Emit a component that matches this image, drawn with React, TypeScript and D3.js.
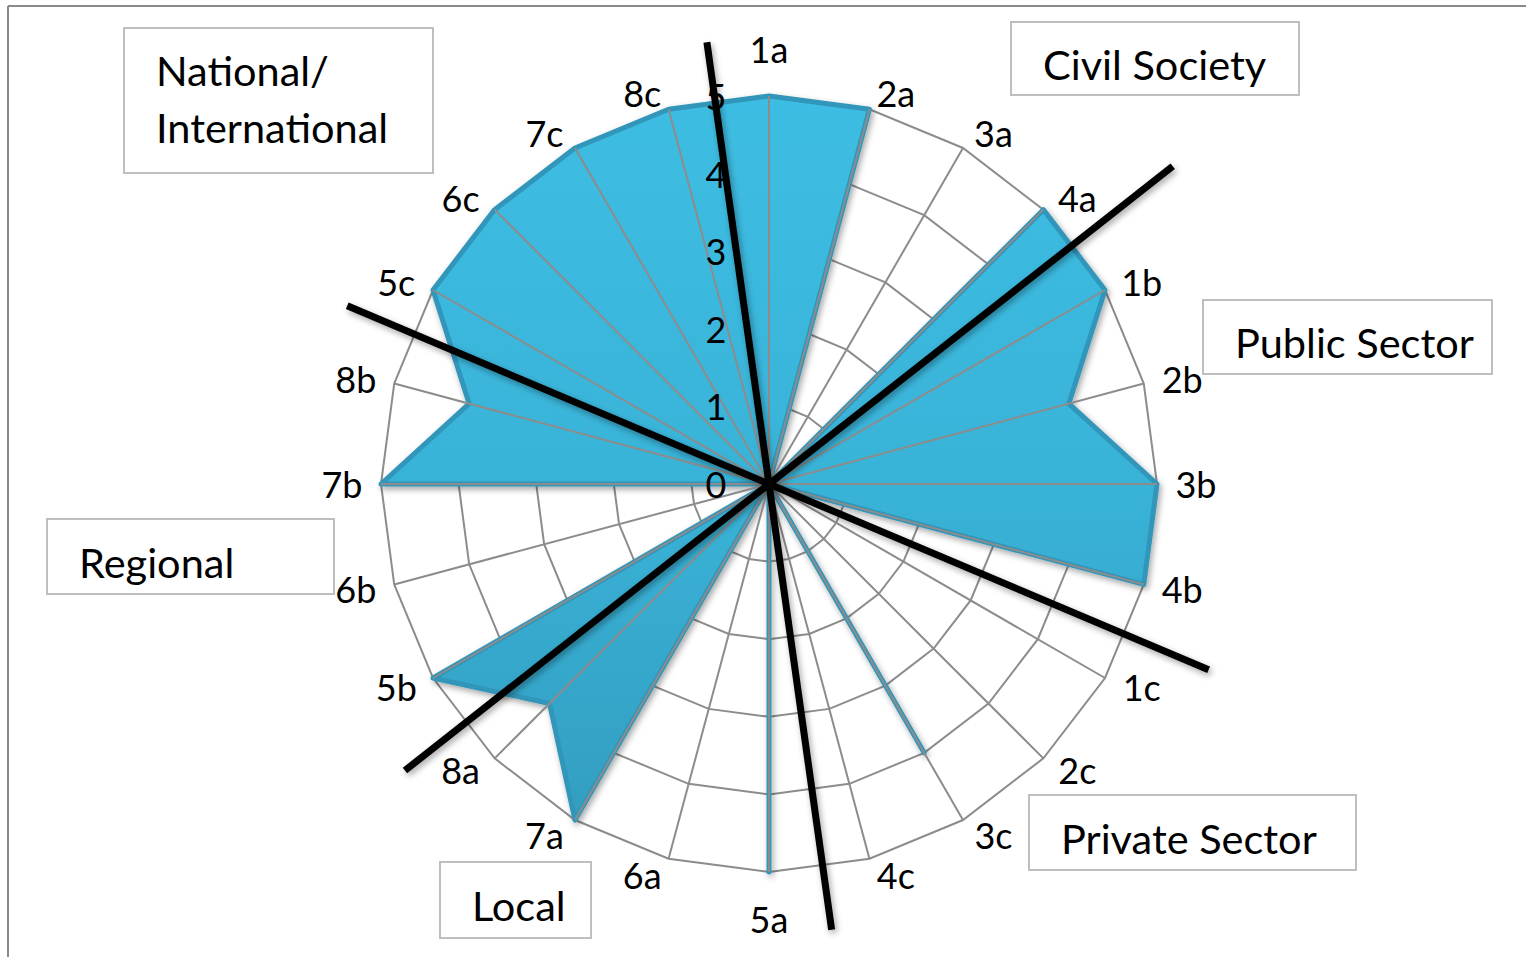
import React from 'react';
import * as d3 from 'd3';

const categories = ['1a','2a','3a','4a','1b','2b','3b','4b','1c','2c','3c','4c','5a','6a','7a','8a','5b','6b','7b','8b','5c','6c','7c','8c'];
const values = [5,5,0,5,5,4,5,5,0,0,4,0,5,0,5,4,5,0,5,4,5,5,5,5];
const tickValues = [0,1,2,3,4,5];

// separator lines: angle (deg, clockwise from top) and extent in value units on each side
const separatorAngles = [352, 51.8, 292.9];
const separatorReachA = [5.75, 6.62, 5.9];
const separatorReachB = [5.8, 5.97, 6.15];

const groupNames = [['National/', 'International'], ['Civil Society'], ['Public Sector'], ['Regional'], ['Private Sector'], ['Local']];
const groupBoxes = [
  { x: 124, y: 28, w: 309, h: 145 },
  { x: 1011, y: 22, w: 288, h: 73 },
  { x: 1203, y: 300, w: 289, h: 74 },
  { x: 47, y: 519, w: 287, h: 75 },
  { x: 1029, y: 795, w: 327, h: 75 },
  { x: 440, y: 862, w: 151, h: 76 },
];

const W = 1526, H = 957;
const cx = 769, cy = 484;
const R = 388;

export default function App() {
  const r = d3.scaleLinear().domain([0, 5]).range([0, R]);
  const n = categories.length;
  const ang = d3.scaleLinear().domain([0, n]).range([0, 2 * Math.PI]);

  const radial = d3.lineRadial<number>()
    .angle((_, i) => ang(i))
    .radius(d => r(d))
    .curve(d3.curveLinearClosed);

  const ring = (v: number) => radial(categories.map(() => v)) as string;
  const area = radial(values) as string;

  const pt = (i: number, v: number) => {
    const a = ang(i);
    return [Math.sin(a) * r(v), -Math.cos(a) * r(v)];
  };

  const font = 'Lato, "Open Sans", sans-serif';

  return (
    <svg width={W} height={H} style={{ position: 'absolute', left: 0, top: 0, background: '#fff' }}>
      <defs>
        <linearGradient id="fillGrad" x1="0" y1={-R} x2="0" y2={R} gradientUnits="userSpaceOnUse">
          <stop offset="0" stopColor="#3dbde3" />
          <stop offset="0.5" stopColor="#39b3d8" />
          <stop offset="1" stopColor="#329bbd" />
        </linearGradient>
        <filter id="shadow" x="-20%" y="-20%" width="140%" height="140%">
          <feDropShadow dx="2" dy="3" stdDeviation="3" floodColor="#000" floodOpacity="0.35" />
        </filter>
      </defs>
      {/* frame */}
      <line x1={8} y1={6} x2={W} y2={6} stroke="#8a8a8a" strokeWidth={2} />
      <line x1={8} y1={6} x2={8} y2={H} stroke="#8a8a8a" strokeWidth={2} />

      <g transform={`translate(${cx},${cy})`}>
        {tickValues.slice(1).map(v => (
          <path key={v} d={ring(v)} fill="none" stroke="#8c8c8c" strokeWidth={2} />
        ))}
        <path d={area} fill="url(#fillGrad)" stroke="#3196ba" strokeWidth={5} strokeLinejoin="round" filter="url(#shadow)" />
        {categories.map((c, i) => {
          const [x, y] = pt(i, 5);
          return <line key={c} x1={0} y1={0} x2={x} y2={y} stroke="#8c8c8c" strokeWidth={2} />;
        })}
        {tickValues.map(v => (
          <text key={v} x={-53} y={-r(v)} textAnchor="middle" dominantBaseline="central"
            fontFamily={font} fontSize={36} fill="#000">{v}</text>
        ))}
        {categories.map((c, i) => {
          const a = ang(i);
          const s = Math.sin(a), co = Math.cos(a);
          const [x, y] = pt(i, 5);
          let dx: number, dy: number;
          if (Math.abs(s) < 0.01) { dx = 0; dy = -co * 47; }
          else { dx = Math.sign(s) * (22 + 17 * Math.abs(s)); dy = -co * 17; }
          return (
            <text key={c} x={x + dx} y={y + dy} textAnchor="middle" dominantBaseline="central"
              fontFamily={font} fontSize={36} fill="#000">{c}</text>
          );
        })}
        {separatorAngles.map((a, i) => {
          const t = (a * Math.PI) / 180;
          const ra = r(separatorReachA[i]), rb = r(separatorReachB[i]);
          return (
            <line key={i} x1={Math.sin(t) * ra} y1={-Math.cos(t) * ra}
              x2={-Math.sin(t) * rb} y2={Math.cos(t) * rb}
              stroke="#000" strokeWidth={7} filter="url(#shadow)" />
          );
        })}
      </g>

      {groupBoxes.map((b, i) => (
        <g key={i}>
          <rect x={b.x} y={b.y} width={b.w} height={b.h} fill="#fff" stroke="#bfbfbf" strokeWidth={2} />
          {groupNames[i].map((t, j) => (
            <text key={j} x={b.x + 32} y={b.y + (groupNames[i].length > 1 ? 58 + j * 57 : b.h / 2 + 21)}
              fontFamily={font} fontSize={41.5} fill="#000">{t}</text>
          ))}
        </g>
      ))}
    </svg>
  );
}
